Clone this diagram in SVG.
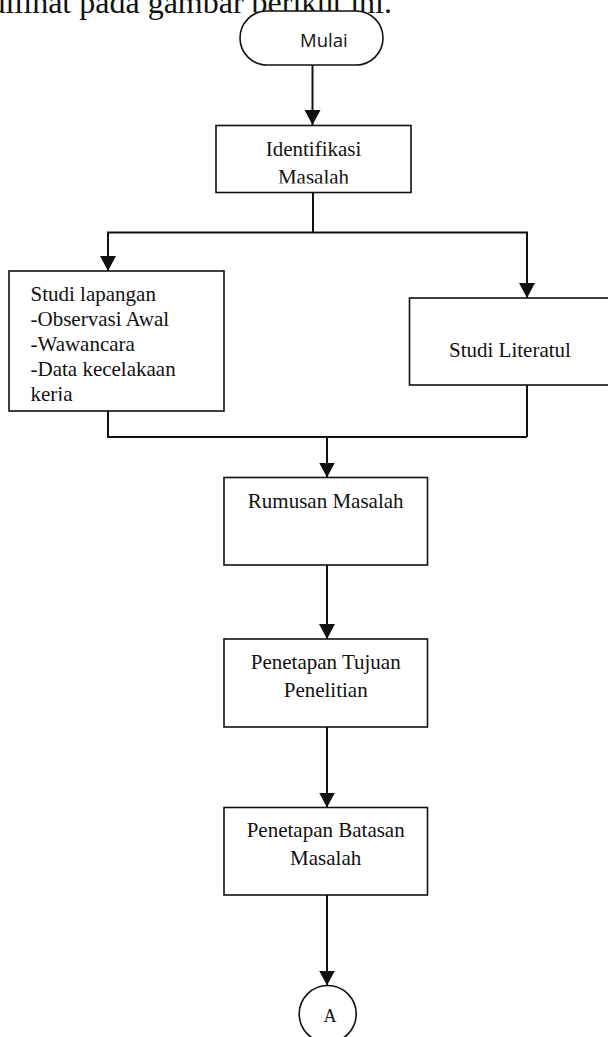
<svg xmlns="http://www.w3.org/2000/svg" width="608" height="1037" viewBox="0 0 608 1037">
<style>
.box{fill:#fff;stroke:#111;stroke-width:1.6}
.t{font-family:"Liberation Serif","Times New Roman",serif;font-size:21px;fill:#111}
.c{text-anchor:middle}
.conn{fill:none;stroke:#111;stroke-width:2}
.hdr{font-family:"Liberation Serif","Times New Roman",serif;font-size:32px;fill:#111}
</style>
<defs>
<marker id="ah" markerUnits="userSpaceOnUse" markerWidth="15" markerHeight="16" refX="15" refY="8" orient="auto">
<path d="M0,0 L15,8 L0,16 z" fill="#111"/>
</marker>
<clipPath id="clipIdent"><rect x="216" y="126" width="195" height="57.5"/></clipPath>
<clipPath id="clipLap"><rect x="9" y="271" width="215" height="130"/></clipPath>
</defs>
<text class="hdr" x="392" y="13" text-anchor="end">dilihat pada gambar berikut ini.</text>
<g id="connectors">
<path class="conn" d="M312.5,65 V125" marker-end="url(#ah)"/>
<path class="conn" d="M313,192 V232.5"/>
<path class="conn" d="M313,232.5 H108 V271" marker-end="url(#ah)"/>
<path class="conn" d="M313,232.5 H527 V298" marker-end="url(#ah)"/>
<path class="conn" d="M108,411 V437 H527"/>
<path class="conn" d="M527,385 V437"/>
<path class="conn" d="M327,437 V477.5" marker-end="url(#ah)"/>
<path class="conn" d="M327,565 V639" marker-end="url(#ah)"/>
<path class="conn" d="M327,727 V807.5" marker-end="url(#ah)"/>
<path class="conn" d="M327,895 V985.5" marker-end="url(#ah)"/>
</g>
<g id="mulai">
<rect class="box" x="240" y="11" width="143" height="54" rx="27" ry="27"/>
<text x="300" y="47" style="font-family:'Open Sans','Noto Sans',sans-serif;font-size:18.5px;fill:#111">Mulai</text>
</g>
<g id="identifikasi">
<rect class="box" x="216" y="125.5" width="195" height="67"/>
<g clip-path="url(#clipIdent)">
<text class="t c" x="313.5" y="155.5">Identifikasi</text>
<text class="t c" x="313.5" y="184">Masalah</text>
</g>
</g>
<g id="studi-lapangan">
<rect class="box" x="9" y="271" width="215" height="140"/>
<g clip-path="url(#clipLap)">
<text class="t" x="30.5" y="301">Studi lapangan</text>
<text class="t" x="30.5" y="326">-Observasi Awal</text>
<text class="t" x="30.5" y="350.5">-Wawancara</text>
<text class="t" x="30.5" y="375.5">-Data kecelakaan</text>
<text class="t" x="30.5" y="401">kerja</text>
</g>
</g>
<g id="studi-literatul">
<rect class="box" x="409.5" y="298" width="210" height="87"/>
<text class="t" x="449" y="356.5">Studi Literatul</text>
</g>
<g id="rumusan">
<rect class="box" x="224" y="477.5" width="203.5" height="87.5"/>
<text class="t c" x="325.7" y="507.5">Rumusan Masalah</text>
</g>
<g id="tujuan">
<rect class="box" x="224" y="639" width="203.5" height="88"/>
<text class="t c" x="325.7" y="668.5">Penetapan Tujuan</text>
<text class="t c" x="325.7" y="696.5">Penelitian</text>
</g>
<g id="batasan">
<rect class="box" x="224" y="807.5" width="203.5" height="87.5"/>
<text class="t c" x="325.7" y="836.5">Penetapan Batasan</text>
<text class="t c" x="325.7" y="865">Masalah</text>
</g>
<g id="konektor-a">
<circle class="box" cx="327.7" cy="1014" r="28.5"/>
<text class="t c" x="330" y="1021.5" style="font-size:18px">A</text>
</g>
</svg>
